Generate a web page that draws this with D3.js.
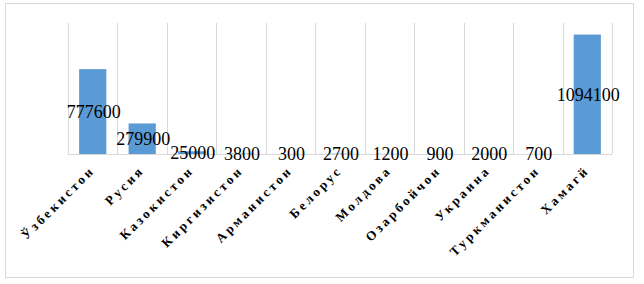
<!DOCTYPE html>
<html>
<head>
<meta charset="utf-8">
<script src="https://cdn.jsdelivr.net/npm/d3@7"></script>
<style>
  body { margin: 0; background: #fff; }
  svg { display: block; }
</style>
</head>
<body>
<div id="chart"></div>
<script>
// data
var categories = ["Ўзбекистон", "Русия", "Казокистон", "Киргизистон", "Арманистон", "Белорус",
                  "Молдова", "Озарбойчон", "Украина", "Туркманистон", "Хамагй"];
var values = [777600, 279900, 25000, 3800, 300, 2700, 1200, 900, 2000, 700, 1094100];

var W = 644, H = 284;
var margin = {top: 23, right: 32, bottom: 130, left: 68},
  width = W - margin.left - margin.right,
  height = H - margin.top - margin.bottom;

var svg = d3.select("#chart").append("svg")
  .attr("width", W)
  .attr("height", H);

// outer frame
svg.append("rect")
  .attr("x", 5.5).attr("y", 3.5)
  .attr("width", 628).attr("height", 274)
  .attr("fill", "#fff")
  .attr("stroke", "#d9d9d9");

var g = svg.append("g")
  .attr("transform", "translate(" + margin.left + "," + margin.top + ")");

var x = d3.scaleBand().domain(categories).range([0, width]).padding(0);
var y = d3.scaleLinear().domain([0, 1200000]).range([height, 0]);

// vertical gridlines at category edges
var edges = categories.map(function(d) { return x(d); }).concat([width]);
g.selectAll(".grid")
  .data(edges)
  .enter().append("line")
  .attr("class", "grid")
  .attr("x1", function(d) { return Math.round(d) + 0.5; })
  .attr("x2", function(d) { return Math.round(d) + 0.5; })
  .attr("y1", 0)
  .attr("y2", height)
  .attr("stroke", "#d9d9d9");

// baseline
g.append("line")
  .attr("x1", 0).attr("x2", width)
  .attr("y1", height + 0.5).attr("y2", height + 0.5)
  .attr("stroke", "#d9d9d9");

var bw = x.bandwidth() * 0.55;

g.selectAll(".bar")
  .data(values)
  .enter().append("rect")
  .attr("class", "bar")
  .attr("x", function(d, i) { return x(categories[i]) + (x.bandwidth() - bw) / 2; })
  .attr("y", function(d) { return y(d); })
  .attr("width", bw)
  .attr("height", function(d) { return height - y(d); })
  .attr("fill", "#5b9bd5");

// value labels, centered on bar
g.selectAll(".val")
  .data(values)
  .enter().append("text")
  .attr("class", "val")
  .attr("x", function(d, i) { return x(categories[i]) + x.bandwidth() / 2 + 1; })
  .attr("y", function(d) { return (y(d) + height) / 2; })
  .attr("dy", "0.35em")
  .attr("text-anchor", "middle")
  .attr("font-family", "'Liberation Serif', 'Times New Roman', serif")
  .attr("font-size", "18px")
  .attr("fill", "#000")
  .text(function(d) { return d; });

// rotated category labels
g.selectAll(".cat")
  .data(categories)
  .enter().append("text")
  .attr("class", "cat")
  .attr("transform", function(d) {
    return "translate(" + (x(d) + x.bandwidth() / 2 + 3) + "," + (height + 17) + ") rotate(-45)";
  })
  .attr("text-anchor", "end")
  .attr("font-family", "'Liberation Serif', 'Times New Roman', serif")
  .attr("font-weight", "bold")
  .attr("font-size", "13px")
  .attr("letter-spacing", "3px")
  .attr("fill", "#000")
  .text(function(d) { return d; });
</script>
</body>
</html>
